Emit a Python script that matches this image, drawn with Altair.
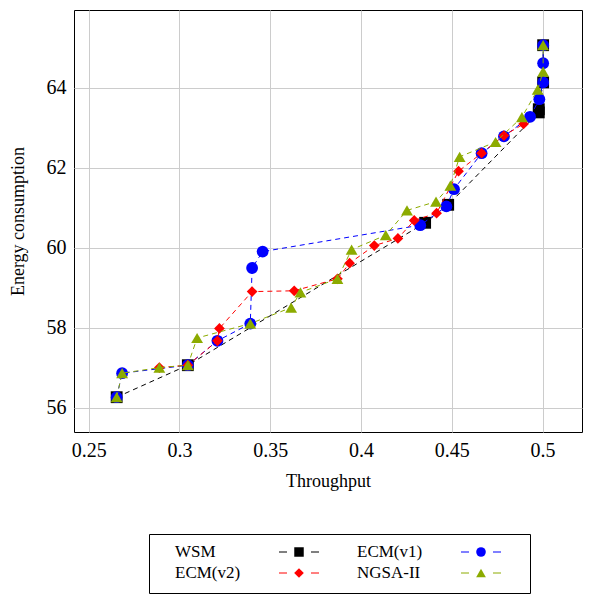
import altair as alt
import pandas as pd

FONT = "Liberation Serif"

series_names = ["WSM", "ECM(v1)", "ECM(v2)", "NGSA-II"]
series_colors = ["#000000", "#0000ff", "#ff0000", "#8cab00"]
series_shapes = ["square", "circle", "diamond", "triangle-up"]
series_sizes = [140, 140, 115, 140]
legend_sizes = [90, 95, 70, 80]

x_ticks = [0.25, 0.3, 0.35, 0.4, 0.45, 0.5]
y_ticks = [56, 58, 60, 62, 64]

wsm_x = [0.2654, 0.3046, 0.4353, 0.448, 0.4979, 0.4979, 0.5003, 0.5003]
wsm_y = [56.26, 57.06, 60.62, 61.07, 63.38, 63.46, 64.13, 65.06]

ecm1_x = [0.2654, 0.2684, 0.3046, 0.3209, 0.339, 0.340, 0.3458, 0.4326, 0.447,
          0.4512, 0.4664, 0.4787, 0.4931, 0.4982, 0.5003, 0.5003, 0.5003]
ecm1_y = [56.26, 56.86, 57.06, 57.67, 58.10, 59.49, 59.90, 60.56, 61.03,
          61.46, 62.36, 62.78, 63.27, 63.71, 64.13, 64.61, 65.06]

ecm2_x = [0.2889, 0.3046, 0.3209, 0.322, 0.340, 0.3632, 0.387, 0.3937, 0.4073,
          0.4203, 0.4293, 0.4416, 0.4537, 0.4664, 0.4787, 0.4895]
ecm2_y = [57.00, 57.06, 57.67, 57.98, 58.90, 58.92, 59.22, 59.61, 60.05,
          60.23, 60.68, 60.86, 61.91, 62.36, 62.80, 63.09]

nsga_x = [0.2654, 0.2684, 0.2889, 0.3046, 0.3097, 0.339, 0.3615, 0.3666, 0.387,
          0.3948, 0.4136, 0.4253, 0.4413, 0.4492, 0.4543, 0.4741, 0.4886, 0.4973,
          0.5003, 0.5003]
nsga_y = [56.26, 56.86, 57.00, 57.06, 57.74, 58.10, 58.50, 58.88, 59.22,
          59.95, 60.31, 60.93, 61.15, 61.55, 62.27, 62.64, 63.26, 63.95,
          64.40, 65.06]

legend_col = [0, 1, 0, 1]
legend_row = [0, 0, 1, 1]

series_x = [wsm_x, ecm1_x, ecm2_x, nsga_x]
series_y = [wsm_y, ecm1_y, ecm2_y, nsga_y]

rows = []
for name, xs, ys in zip(series_names, series_x, series_y):
    for i, (xv, yv) in enumerate(zip(xs, ys)):
        rows.append({"series": name, "x": xv, "y": yv, "idx": i})
df = pd.DataFrame(rows)

axis_style = dict(labelFont=FONT, titleFont=FONT, labelFontSize=20, titleFontSize=18,
                  titleFontWeight="normal", labelColor="black", titleColor="black",
                  gridColor="#cccccc", gridWidth=1, domain=False, ticks=False,
                  labelPadding=8)

X = alt.X("x:Q",
          scale=alt.Scale(domain=[0.2419, 0.5217], nice=False, zero=False),
          axis=alt.Axis(values=x_ticks, format="~g", title="Throughput",
                        titlePadding=12, **axis_style))
Y = alt.Y("y:Q",
          scale=alt.Scale(domain=[55.39, 65.94], nice=False, zero=False),
          axis=alt.Axis(values=y_ticks, format="d", title="Energy consumption",
                        titlePadding=19, **axis_style))

base = alt.Chart(df)
layers = []
for name, color, shape, size in zip(series_names, series_colors, series_shapes, series_sizes):
    sub = base.transform_filter(alt.datum.series == name)
    layers.append(sub.mark_line(color=color, strokeWidth=1, strokeDash=[5, 4]).encode(
        x=X, y=Y, order="idx:Q"))
    layers.append(sub.mark_point(shape=shape, filled=True, color=color, size=size,
                                 opacity=1, strokeWidth=0).encode(x=X, y=Y))

frame = alt.ViewBackground(stroke="black", strokeWidth=1)
noframe = alt.ViewBackground(stroke=None)

main = alt.layer(*layers).properties(width=508, height=422, view=frame)

leg_df = pd.DataFrame({"series": series_names, "col": legend_col, "row": legend_row})
LX = alt.X("col:Q", scale=alt.Scale(domain=[-0.14286, 1.9505], nice=False, zero=False), axis=None)
LY = alt.Y("row:Q", scale=alt.Scale(domain=[-0.857, 1.952], nice=False, zero=False, reverse=True),
           axis=None)
color_enc = alt.Color("series:N", scale=alt.Scale(domain=series_names, range=series_colors), legend=None)
shape_enc = alt.Shape("series:N", scale=alt.Scale(domain=series_names, range=series_shapes), legend=None)
size_enc = alt.Size("series:N", scale=alt.Scale(domain=series_names, range=legend_sizes), legend=None)

lbase = alt.Chart(leg_df)
leg_text = lbase.mark_text(align="left", baseline="middle", font=FONT, fontSize=17, color="black").encode(
    x=LX, y=LY, text="series:N")
leg_dash = lbase.mark_point(shape="M-1,0H-0.6M0.6,0H1", filled=False, size=1600, strokeWidth=1,
                            opacity=1, xOffset=124).encode(x=LX, y=LY, color=color_enc)
leg_mark = lbase.mark_point(filled=True, opacity=1, strokeWidth=0, xOffset=124).encode(
    x=LX, y=LY, color=color_enc, shape=shape_enc, size=size_enc)
legend = alt.layer(leg_text, leg_dash, leg_mark).properties(width=381, height=59, view=frame)

spacer = lbase.mark_point(opacity=0).encode(
    x=alt.X("col:Q", axis=None), y=alt.Y("row:Q", axis=None)
).properties(width=70, height=59, view=noframe)

legend_row_chart = alt.hconcat(spacer, legend, spacing=1)

chart = alt.vconcat(main, legend_row_chart, spacing=40).properties(
    padding={"left": 0, "top": 1, "right": 0, "bottom": 0}
).configure_view(stroke=None)

chart.save("out.html", embed_options={"renderer": "svg", "actions": False})
